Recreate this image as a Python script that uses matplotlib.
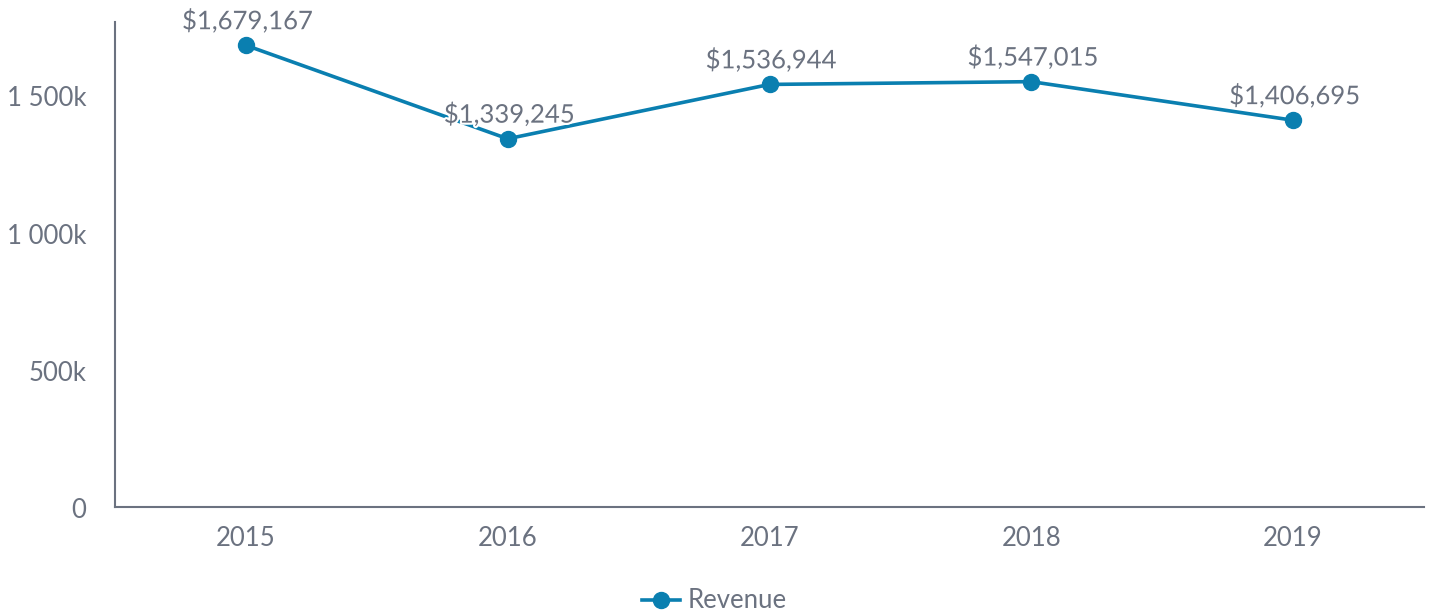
import matplotlib
matplotlib.use("Agg")
import matplotlib.pyplot as plt
import matplotlib.patheffects as pe
import matplotlib.transforms as mtransforms
from matplotlib.ticker import FuncFormatter
from matplotlib.lines import Line2D

years = ["2015", "2016", "2017", "2018", "2019"]
revenue = [1679167, 1339245, 1536944, 1547015, 1406695]
y_ticks = [0, 500000, 1000000, 1500000]

plt.rcParams["font.family"] = ["Lato", "DejaVu Sans"]
TXT = "#6b7280"
LINE = "#0a7fb0"
FS = 18.5

fig = plt.figure(figsize=(14.36, 6.15), dpi=100)
ax = fig.add_axes([115/1436, 1-507/615, (1424-115)/1436, (507-22)/615])

x = list(range(len(years)))
ax.plot(x, revenue, color=LINE, lw=2.6, marker="o", ms=11.5, zorder=3)

for xi, v in zip(x, revenue):
    ax.annotate(f"${v:,.0f}", (xi, v), xytext=(1.3, 8), textcoords="offset points",
                ha="center", va="bottom", fontsize=FS, color=TXT, zorder=4,
                path_effects=[pe.withStroke(linewidth=3, foreground="white")])

ax.set_xlim(-0.5, len(years) - 0.5)
ax.set_ylim(0, 1764000)
ax.set_xticks(x)
ax.set_xticklabels(years)
ax.set_yticks(y_ticks)

def fmt(v, pos):
    if v == 0:
        return "0"
    k = int(round(v / 1000))
    s = f"{k:,}".replace(",", " ")
    return s + "k"
ax.yaxis.set_major_formatter(FuncFormatter(fmt))

ax.tick_params(axis="both", length=0, labelsize=FS, colors=TXT)
ax.tick_params(axis="y", pad=20.5)
ax.tick_params(axis="x", pad=14)
off = mtransforms.ScaledTranslation(0, -1.5/100, fig.dpi_scale_trans)
for lab in ax.get_yticklabels():
    lab.set_transform(lab.get_transform() + off)
for s in ["top", "right"]:
    ax.spines[s].set_visible(False)
for s in ["left", "bottom"]:
    ax.spines[s].set_color(TXT)
    ax.spines[s].set_linewidth(1.5)

handle = Line2D([0], [0], color=LINE, lw=2.6, marker="o", ms=11.5)
fig.legend([handle], ["Revenue"], loc="center", bbox_to_anchor=(0.4975, 1-601/615),
           frameon=False, fontsize=FS, labelcolor=TXT, handlelength=1.5,
           handletextpad=0.3)

fig.savefig("out.png", dpi=100)
